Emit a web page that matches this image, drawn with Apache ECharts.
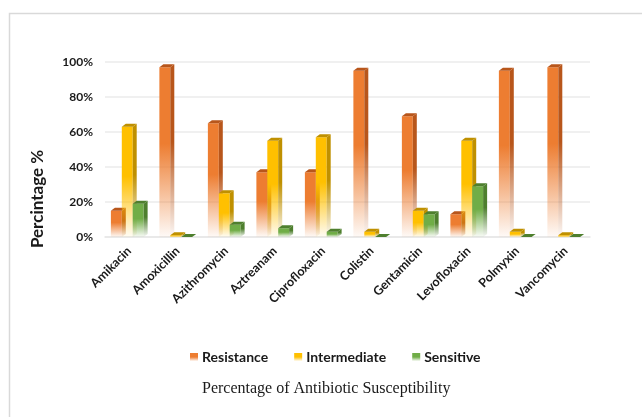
<!DOCTYPE html>
<html>
<head>
<meta charset="utf-8">
<script src="https://cdn.jsdelivr.net/npm/echarts@6/dist/echarts.min.js"></script>
<style>
  html, body { margin: 0; padding: 0; background: #ffffff; }
  #chart { width: 642px; height: 417px; }
</style>
</head>
<body>
<div id="chart"></div>
<script>
// Antibiotic susceptibility, in percent of isolates
const categories = ['Amikacin', 'Amoxicillin', 'Azithromycin', 'Aztreanam', 'Ciprofloxacin',
                    'Colistin', 'Gentamicin', 'Levofloxacin', 'Polmyxin', 'Vancomycin'];
const resistance   = [15, 97, 65, 37, 37, 95, 69, 13, 95, 97];
const intermediate = [63, 1, 25, 55, 57, 3, 15, 55, 3, 1];
const sensitive    = [19, 0, 7, 5, 3, 0, 13, 29, 0, 0];
const yTicks = [0, 20, 40, 60, 80, 100];

const seriesNames = ['Resistance', 'Intermediate', 'Sensitive'];
const seriesValues = [resistance, intermediate, sensitive];
const frontColors = ['#ED7D31', '#FFC000', '#70AD47'];
const sideColors  = ['#B8561B', '#BF9000', '#4E7F2E'];

const chart = echarts.init(document.getElementById('chart'), null, { renderer: 'canvas' });

function fade(color, hold) {
  return new echarts.graphic.LinearGradient(0, 0, 0, 1, [
    { offset: 0, color: color },
    { offset: hold, color: color },
    { offset: 1, color: echarts.color.modifyAlpha(color, 0.04) }
  ]);
}

const DX = 4, DY = 3;

function makeRender(s) {
  return function (params, api) {
    const i = api.value(0);
    const v = api.value(1);
    const base = api.coord([i, 0]);
    const top = api.coord([i, v]);
    const band = api.size([1, 0])[0];
    const w = band * 0.225;
    const x = base[0] - (w * 3) / 2 + s * w - DX / 2;
    const yT = top[1], yB = base[1];
    const h = Math.max(yB - yT, 0);
    return {
      type: 'group',
      children: [
        {
          type: 'rect',
          shape: { x: x, y: yT, width: w, height: h },
          style: { fill: fade(frontColors[s], 0.45) }
        },
        {
          type: 'polygon',
          shape: { points: [[x + w, yT], [x + w + DX, yT - DY], [x + w + DX, yB - DY], [x + w, yB]] },
          style: { fill: fade(sideColors[s], 0.45) }
        },
        {
          type: 'polygon',
          shape: { points: [[x, yT], [x + DX, yT - DY], [x + w + DX, yT - DY], [x + w, yT]] },
          style: { fill: sideColors[s] }
        }
      ]
    };
  };
}

const series = seriesNames.map(function (name, s) {
  return {
    name: name,
    type: 'custom',
    renderItem: makeRender(s),
    encode: { x: 0, y: 1 },
    itemStyle: { color: fade(frontColors[s], 0.5) },
    data: seriesValues[s].map(function (v, i) { return [i, v]; }),
    z: 2 + s
  };
});

const option = {
  backgroundColor: '#ffffff',
  animation: false,
  textStyle: { fontFamily: 'Lato' },
  title: {
    text: 'Percentage of Antibiotic Susceptibility',
    left: 202,
    top: 381,
    padding: 0,
    textStyle: {
      fontFamily: 'Liberation Serif',
      fontWeight: 'normal',
      fontSize: 16,
      color: '#1a1a1a'
    }
  },
  legend: {
    data: seriesNames,
    left: 190,
    top: 350,
    padding: 0,
    itemGap: 26,
    itemWidth: 8,
    itemHeight: 8,
    icon: 'rect',
    textStyle: { fontFamily: 'Lato', fontWeight: 'bold', fontSize: 14, color: '#1a1a1a', padding: [0, 0, 0, -1] }
  },
  grid: { left: 105, right: 52, top: 62, bottom: 180, containLabel: false },
  xAxis: {
    type: 'category',
    data: categories,
    axisLine: { show: true, lineStyle: { color: '#e6e6e6', width: 1.5 } },
    axisTick: { show: false },
    axisLabel: {
      rotate: 45,
      margin: 12,
      interval: 0,
      fontFamily: 'Lato',
      fontWeight: 'bold',
      fontSize: 12.5,
      color: '#1a1a1a'
    }
  },
  yAxis: {
    type: 'value',
    min: 0,
    max: 100,
    interval: 20,
    axisLine: { show: false },
    axisTick: { show: false },
    splitLine: { lineStyle: { color: '#ebebeb', width: 1.5 } },
    axisLabel: {
      margin: 12,
      fontFamily: 'Lato',
      fontWeight: 'bold',
      fontSize: 12,
      color: '#1a1a1a',
      formatter: function (v) { return yTicks.indexOf(v) >= 0 ? v + '%' : ''; }
    }
  },
  graphic: [
    {
      type: 'rect',
      left: 7,
      top: 11,
      shape: { width: 660, height: 420 },
      style: { fill: 'none', stroke: '#d9d9d9', lineWidth: 1.5 },
      silent: true,
      z: -1
    },
    {
      type: 'text',
      x: 38,
      y: 199,
      rotation: Math.PI / 2,
      style: {
        text: 'Percintage %',
        fontFamily: 'Lato',
        fontWeight: 'bold',
        fontSize: 17,
        fill: '#1a1a1a',
        align: 'center',
        verticalAlign: 'middle'
      }
    }
  ],
  series: series
};

chart.setOption(option);
</script>
</body>
</html>
